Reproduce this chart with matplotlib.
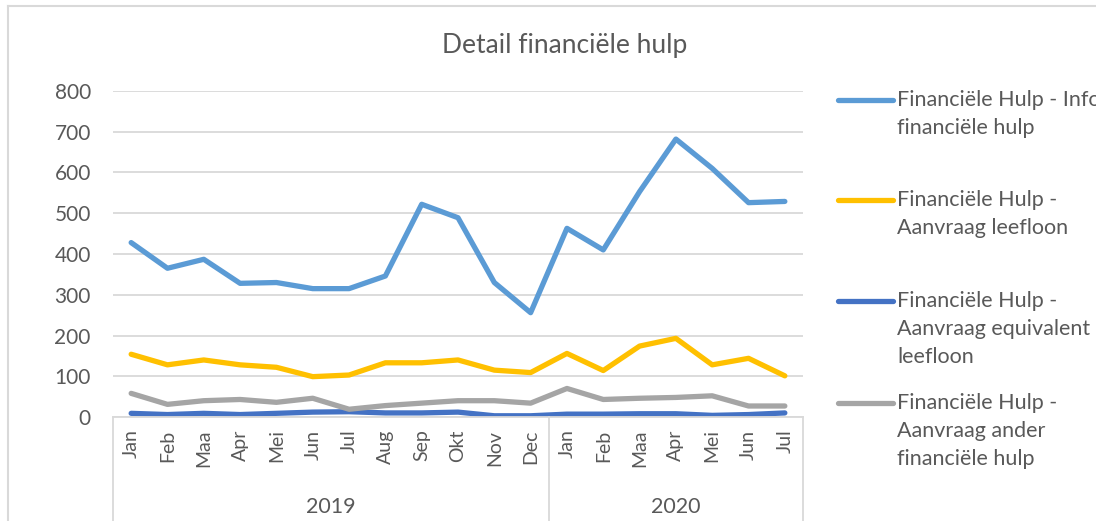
import matplotlib
matplotlib.use("Agg")
import matplotlib.pyplot as plt
from matplotlib.lines import Line2D
import matplotlib.transforms as mtransforms

# data
months = ["Jan", "Feb", "Maa", "Apr", "Mei", "Jun", "Jul", "Aug", "Sep", "Okt", "Nov", "Dec",
          "Jan", "Feb", "Maa", "Apr", "Mei", "Jun", "Jul"]
years = ["2019", "2020"]
year_counts = [12, 7]

info_hulp = [428, 365, 387, 328, 330, 315, 315, 346, 522, 489, 330, 256,
             463, 410, 553, 682, 610, 526, 529]
leefloon = [154, 128, 140, 128, 122, 99, 103, 133, 133, 140, 115, 109,
            156, 114, 174, 193, 128, 144, 101]
equiv_leefloon = [9, 6, 9, 6, 9, 12, 13, 10, 10, 12, 3, 3,
                  7, 7, 8, 8, 4, 6, 10]
ander_hulp = [58, 31, 40, 43, 36, 46, 19, 28, 34, 40, 40, 34,
              70, 43, 46, 48, 52, 27, 27]

series_labels = [
    "Financiële Hulp - Info\nfinanciële hulp",
    "Financiële Hulp -\nAanvraag leefloon",
    "Financiële Hulp -\nAanvraag equivalent\nleefloon",
    "Financiële Hulp -\nAanvraag ander\nfinanciële hulp",
]
series_values = [info_hulp, leefloon, equiv_leefloon, ander_hulp]
colors = ["#5B9BD5", "#FFC000", "#4472C4", "#A5A5A5"]

TXT = "#595959"
GRID = "#D9D9D9"
plt.rcParams["font.family"] = ["Lato", "DejaVu Sans"]

W, H = 1096, 521
fig = plt.figure(figsize=(W / 100, H / 100), dpi=100)
ax = fig.add_axes([113 / W, 1 - 417 / H, (803 - 113) / W, (417 - 91) / H])

x = list(range(len(months)))
lines = []
for vals, c in zip(series_values, colors):
    ln, = ax.plot(x, vals, color=c, lw=3.8, solid_capstyle="round", solid_joinstyle="round")
    lines.append(ln)

ax.set_xlim(-0.5, len(months) - 0.5)
ax.set_ylim(0, 800)
ax.set_yticks(range(0, 801, 100))
ax.grid(axis="y", color=GRID, lw=1.3)
ax.set_axisbelow(True)
for s in ["top", "right", "left"]:
    ax.spines[s].set_visible(False)
ax.spines["bottom"].set_color(GRID)
ax.spines["bottom"].set_linewidth(1.3)
ax.tick_params(axis="y", length=0, pad=16, labelsize=15, labelcolor=TXT)
ax.set_xticks(x)
ax.set_xticklabels(months, rotation=90, fontsize=14, color=TXT)
ax.tick_params(axis="x", length=0, pad=9)

# year level of the category axis
trans = mtransforms.blended_transform_factory(ax.transData, ax.transAxes)
bottom = -(H - 417) / (417 - 91)
edges = [-0.5]
for n in year_counts:
    edges.append(edges[-1] + n)
for e in edges:
    ax.plot([e, e], [0, bottom], transform=trans, color=GRID, lw=1.3, clip_on=False)
for i, yr in enumerate(years):
    ax.text((edges[i] + edges[i + 1]) / 2, -(507 - 417) / (417 - 91), yr, transform=trans,
            ha="center", va="center", fontsize=15.5, color=TXT)

fig.text(565 / W, 1 - 46 / H, "Detail financiële hulp", ha="center", va="center",
         fontsize=19, color=TXT)

# legend drawn by hand, Excel style slots (first label runs off the edge, as in the original)
entry_tops = [100, 200, 301, 403]
for ln, lab, top in zip(lines, series_labels, entry_tops):
    fig.add_artist(Line2D([838 / W, 893 / W], [1 - top / H, 1 - top / H],
                          color=ln.get_color(), lw=3.8, solid_capstyle="round"))
    fig.text(897 / W, 1 - (top - 10) / H, lab, ha="left", va="top", fontsize=15.5,
             color=TXT, linespacing=1.5)

# chart area border
fig.add_artist(Line2D([8 / W, 1], [1 - 6 / H, 1 - 6 / H], color=GRID, lw=1.5))
fig.add_artist(Line2D([8 / W, 8 / W], [0, 1 - 6 / H], color=GRID, lw=1.5))

fig.savefig("out.png", dpi=100)
